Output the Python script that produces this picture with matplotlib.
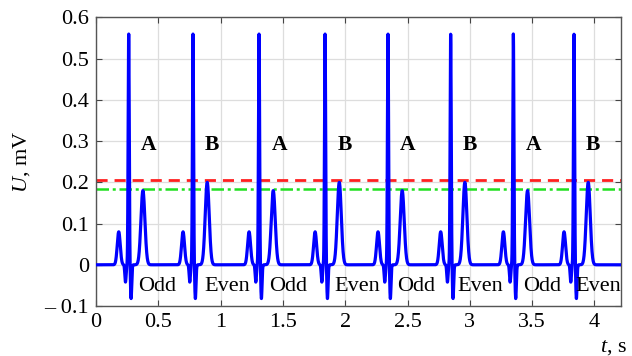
import numpy as np
import matplotlib
matplotlib.use("Agg")
import matplotlib.pyplot as plt

# ---- data ----
r_times = [0.262, 0.778, 1.308, 1.838, 2.343, 2.846, 3.349, 3.836]   # R-peak times, s
t_amps = [0.18, 0.20, 0.18, 0.20, 0.18, 0.20, 0.18, 0.20]            # T-wave amplitude, mV
# wave components relative to R peak: P, Q, R, S, T
wave_offsets = [-0.080, -0.026, 0.0, 0.019, 0.114]   # s
wave_amps = [0.08, -0.042, 0.56, -0.082, None]       # mV (T from t_amps)
wave_widths = [0.012, 0.005, 0.0045, 0.005, 0.016]   # s
red_level = 0.205
green_level = 0.185
letter_labels = ["A", "B", "A", "B", "A", "B", "A", "B"]
letter_x = [0.425, 0.93, 1.47, 2.00, 2.50, 3.00, 3.51, 3.99]
letter_y = 0.29
parity_labels = ["Odd", "Even", "Odd", "Even", "Odd", "Even", "Odd", "Even"]
parity_x = [0.487, 1.05, 1.54, 2.10, 2.57, 3.08, 3.58, 4.03]
parity_y = -0.052
xticks = [0, 0.5, 1, 1.5, 2, 2.5, 3, 3.5, 4]
xticklabels = ["0", "0.5", "1", "1.5", "2", "2.5", "3", "3.5", "4"]
yticks = [-0.1, 0, 0.1, 0.2, 0.3, 0.4, 0.5, 0.6]
yticklabels = ["– 0.1", "0", "0.1", "0.2", "0.3", "0.4", "0.5", "0.6"]

plt.rcParams['font.family'] = ['Liberation Serif', 'DejaVu Serif']
plt.rcParams['mathtext.fontset'] = 'custom'
plt.rcParams['mathtext.it'] = 'Liberation Serif:italic'
plt.rcParams['mathtext.rm'] = 'Liberation Serif'

t = np.linspace(0, 4.21, 8000)
u = np.zeros_like(t)
for tr, ta in zip(r_times, t_amps):
    for off, amp, w in zip(wave_offsets, wave_amps, wave_widths):
        a = ta if amp is None else amp
        u += a * np.exp(-0.5 * ((t - tr - off) / w) ** 2)

fig = plt.figure(figsize=(6.32, 3.56), dpi=100)
ax = fig.add_axes([0.152, 0.1404, 0.830, 0.8105])

ax.plot(t, u, color='#0000ff', lw=2.3, zorder=3)
ax.axhline(red_level, color='#ff2020', lw=2.0, ls=(0, (4, 2.5)), zorder=2)
ax.axhline(green_level, color='#20e020', lw=1.8, ls=(0, (5, 1.5, 1.2, 1.5)), zorder=2)

for lab, x in zip(letter_labels, letter_x):
    ax.text(x, letter_y, lab, fontsize=15.5, fontweight='bold', ha='center', va='center', zorder=4)
for lab, x in zip(parity_labels, parity_x):
    ax.text(x, parity_y, lab, fontsize=16, ha='center', va='center', zorder=4)

ax.set_xlim(0, 4.21)
ax.set_ylim(-0.1, 0.6)
ax.set_xticks(xticks)
ax.set_xticklabels(xticklabels)
ax.set_yticks(yticks)
ax.set_yticklabels(yticklabels)
ax.tick_params(direction='in', top=True, right=True, length=4, width=0.8,
               labelsize=16, color='#444444', pad=5)
ax.grid(True, color='#dddddd', lw=0.9)
for s in ax.spines.values():
    s.set_color('#555555')
    s.set_linewidth(1.0)

ax.set_ylabel(r'$U$, mV', fontsize=16, labelpad=9)
fig.text(0.992, 0.012, r'$t$, s', fontsize=16, ha='right', va='baseline')

fig.savefig('out.png', dpi=100)
